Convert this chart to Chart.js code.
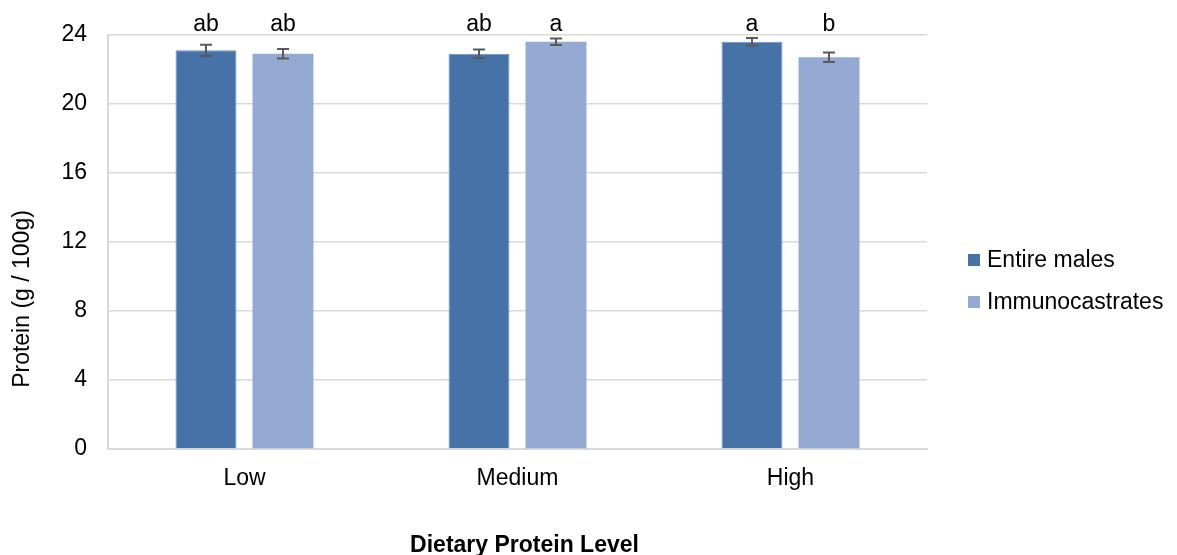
<!DOCTYPE html>
<html>
<head>
<meta charset="utf-8">
<script src="https://cdn.jsdelivr.net/npm/chart.js@4/dist/chart.umd.min.js"></script>
<style>
  html, body { margin: 0; padding: 0; background: #ffffff; }
  #wrap { width: 1177px; height: 555px; }
</style>
</head>
<body>
<div id="wrap"><canvas id="chart" width="1177" height="555"></canvas></div>
<script>
// Protein content by dietary protein level and sex type
const categories = ['Low', 'Medium', 'High'];
const seriesNames = ['Entire males', 'Immunocastrates'];
const entireMales = [23.1, 22.9, 23.6];
const immunocastrates = [22.9, 23.6, 22.7];
const entireMalesSE = [0.33, 0.25, 0.22];
const immunocastratesSE = [0.27, 0.19, 0.28];
const entireMalesLetters = ['ab', 'ab', 'a'];
const immunocastratesLetters = ['ab', 'a', 'b'];
const yTicks = [0, 4, 8, 12, 16, 20, 24];
const xTitle = 'Dietary Protein Level';
const yTitle = 'Protein (g / 100g)';

const FONT = '"Liberation Sans", Arial, sans-serif';
const FONT_SIZE = 23;

// Standard-error whiskers and significance letters
const annotations = {
  id: 'annotations',
  afterDatasetsDraw(chart) {
    const ctx = chart.ctx;
    const y = chart.scales.y;
    chart.data.datasets.forEach((ds, di) => {
      const meta = chart.getDatasetMeta(di);
      meta.data.forEach((bar, i) => {
        const v = ds.data[i];
        const e = ds.errors[i];
        const yt = y.getPixelForValue(v + e);
        const yb = y.getPixelForValue(v - e);
        ctx.save();
        ctx.strokeStyle = '#5a5a5a';
        ctx.lineWidth = 2;
        ctx.beginPath();
        ctx.moveTo(bar.x, yt); ctx.lineTo(bar.x, yb);
        ctx.moveTo(bar.x - 6, yt); ctx.lineTo(bar.x + 6, yt);
        ctx.moveTo(bar.x - 6, yb); ctx.lineTo(bar.x + 6, yb);
        ctx.stroke();
        ctx.fillStyle = '#000000';
        ctx.font = FONT_SIZE + 'px ' + FONT;
        ctx.textAlign = 'center';
        ctx.textBaseline = 'alphabetic';
        ctx.fillText(ds.letters[i], bar.x, chart.chartArea.top - 4);
        ctx.restore();
      });
    });
  }
};

// Axis titles and the legend on the right
const frame = {
  id: 'frame',
  afterDraw(chart) {
    const ctx = chart.ctx;
    const area = chart.chartArea;
    ctx.save();
    ctx.fillStyle = '#000000';
    ctx.font = FONT_SIZE + 'px ' + FONT;
    ctx.textAlign = 'center';
    ctx.textBaseline = 'alphabetic';
    ctx.save();
    ctx.translate(29, 299);
    ctx.rotate(-Math.PI / 2);
    ctx.fillText(yTitle, 0, 0);
    ctx.restore();

    ctx.font = 'bold ' + FONT_SIZE + 'px ' + FONT;
    ctx.fillText(xTitle, (area.left + area.right) / 2 + 7, 552);

    ctx.font = FONT_SIZE + 'px ' + FONT;
    ctx.textAlign = 'left';
    ctx.textBaseline = 'middle';
    chart.data.datasets.forEach((ds, di) => {
      const cy = 260 + di * 42;
      ctx.fillStyle = ds.backgroundColor;
      ctx.fillRect(968, cy - 6, 12, 12);
      ctx.fillStyle = '#000000';
      ctx.fillText(ds.label, 987, cy + 1);
    });
    ctx.restore();
  }
};

new Chart(document.getElementById('chart'), {
  type: 'bar',
  data: {
    labels: categories,
    datasets: [
      {
        label: seriesNames[0],
        data: entireMales,
        errors: entireMalesSE,
        letters: entireMalesLetters,
        backgroundColor: '#4672a7',
        borderColor: '#6f93c3',
        borderWidth: 1
      },
      {
        label: seriesNames[1],
        data: immunocastrates,
        errors: immunocastratesSE,
        letters: immunocastratesLetters,
        backgroundColor: '#95aad2',
        borderColor: '#95aad2',
        borderWidth: 0
      }
    ]
  },
  options: {
    responsive: false,
    animation: false,
    devicePixelRatio: 1,
    categoryPercentage: 0.564,
    barPercentage: 0.792,
    layout: { padding: { top: 33, right: 250, bottom: 0, left: 0 } },
    plugins: {
      legend: { display: false },
      tooltip: { enabled: false }
    },
    scales: {
      x: {
        grid: { display: false, drawTicks: false },
        border: { display: true, color: '#d9d9d9', width: 2 },
        ticks: {
          color: '#000000',
          padding: 16,
          font: { family: FONT, size: FONT_SIZE }
        },
        afterFit(scale) { scale.height = 106; }
      },
      y: {
        min: 0,
        max: 24,
        afterBuildTicks(scale) { scale.ticks = yTicks.map(v => ({ value: v })); },
        grid: { color: '#d9d9d9', lineWidth: 1.5, drawTicks: false },
        border: { display: true, color: '#d9d9d9', width: 2 },
        ticks: {
          color: '#000000',
          padding: 21,
          font: { family: FONT, size: FONT_SIZE }
        },
        afterFit(scale) { scale.width = 108; }
      }
    }
  },
  plugins: [annotations, frame]
});
</script>
</body>
</html>
